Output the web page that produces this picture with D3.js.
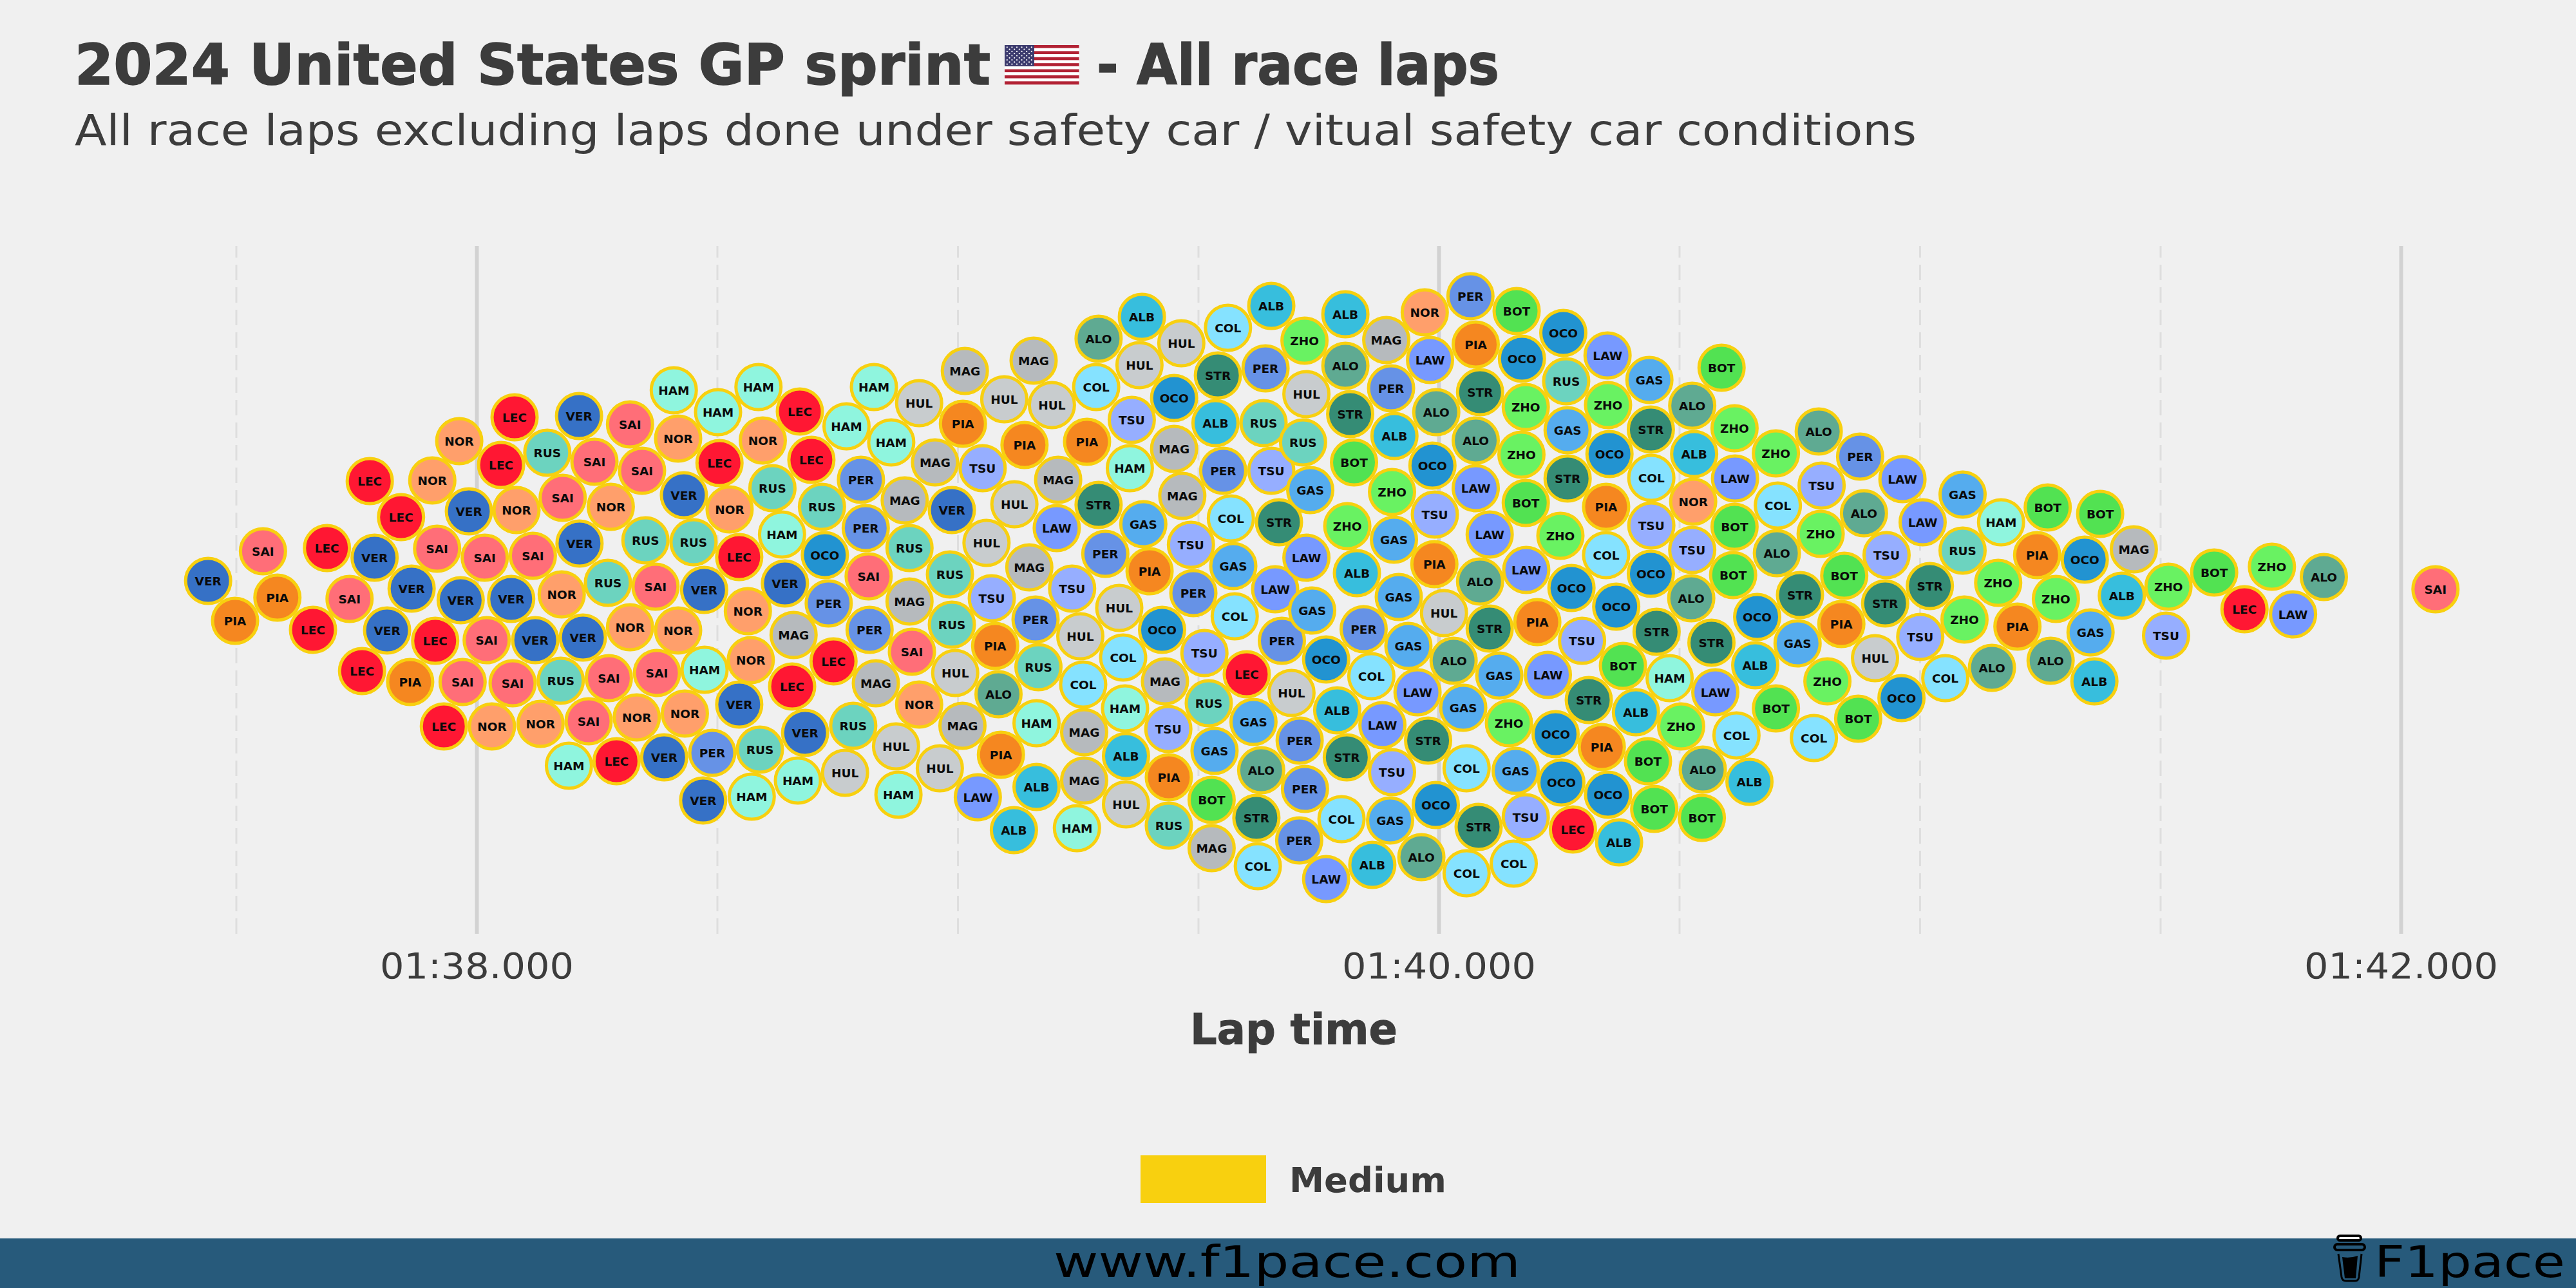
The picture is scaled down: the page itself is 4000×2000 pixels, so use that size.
<!DOCTYPE html>
<html><head><meta charset="utf-8">
<script src="https://cdn.jsdelivr.net/npm/d3@7"></script>
<style>html,body{margin:0;padding:0;background:#f0f0f0}svg{display:block}text{font-family:"DejaVu Sans",sans-serif}</style>
</head><body><div id="chart"></div>
<script>
const driverCodes=["VER","PER","LEC","SAI","HAM","RUS","NOR","PIA","ALO","STR","GAS","OCO","ALB","COL","TSU","LAW","HUL","MAG","BOT","ZHO"];
const driverColors=["#3671C6","#6692E6","#FF1733","#FF6E78","#8FF5DE","#6CD3BF","#FF9F6B","#F58720","#5FAA92","#358C75","#55ACEE","#2293D1","#37BEDD","#85E2FF","#96AEFF","#7799FF","#C8CCCE","#B6BABD","#52E252","#69F262"];
const lapDrivers=["VER","PIA","SAI","PIA","LEC","LEC","SAI","VER","LEC","LEC","NOR","NOR","VER","SAI","VER","VER","LEC","PIA","LEC","VER","SAI","LEC","LEC","NOR","SAI","VER","SAI","SAI","LEC","NOR","SAI","VER","NOR","RUS","VER","NOR","VER","SAI","RUS","VER","SAI","NOR","RUS","NOR","SAI","SAI","HAM","LEC","NOR","SAI","NOR","SAI","RUS","SAI","SAI","HAM","NOR","VER","RUS","VER","HAM","NOR","VER","PER","VER","HAM","LEC",
"NOR","LEC","VER","NOR","NOR","HAM","RUS","HAM","NOR","RUS","HAM","VER","MAG","LEC","VER","HAM","HUL","LEC","LEC","RUS","OCO","PER","LEC","RUS","HAM","HAM","PER","PER","SAI","PER","MAG","HUL","HAM","HUL","HAM","MAG","RUS","MAG","SAI","NOR","HUL","LAW","MAG","VER","RUS","RUS","HUL","MAG","MAG","PIA","TSU","HUL","TSU","PIA","ALO","PIA","ALB","ALB","HUL","MAG","HUL","PIA","HUL","MAG","PER","RUS","HAM","MAG","LAW","TSU","HUL","COL","MAG","MAG","HAM","PIA","COL","ALO","ALB","HUL","HUL","TSU","HAM","STR","PER","HUL","COL","HAM","ALB","HUL","GAS","PIA","OCO","MAG","TSU","PIA","RUS","OCO","MAG","MAG","TSU","PER","TSU","RUS","GAS","BOT","MAG","STR","ALB","PER","COL","GAS","COL","LEC","GAS","ALO","STR","COL","COL","ALB","PER","RUS","TSU","STR","LAW","PER","HUL","PER","PER","PER","ZHO","HUL","RUS","GAS","LAW","GAS","OCO","LAW",
"ALB","ALO","STR","BOT","ZHO","ALB","STR","LAW","COL","PER","ALB","GAS","ZHO","ALB","PER","MAG","NOR","PER","BOT","LAW","ALO","OCO","TSU","PIA","GAS","HUL","GAS","ALO","LAW","GAS","STR","TSU","COL","GAS","ALB","ALO","OCO","COL","COL","STR","COL","TSU","GAS","ZHO","GAS","STR","ALO","LAW","LAW","ALO","STR","PIA","OCO","ZHO","ZHO","BOT","ZHO","LAW","PIA","LAW","OCO","OCO","LEC","ALB","OCO","PIA","STR","TSU","OCO","COL","PIA","STR","GAS","RUS","OCO","LAW","ZHO","OCO","GAS","STR","COL","TSU","OCO","OCO","STR","BOT","HAM","ALB","ZHO","BOT","BOT","ALO","BOT","ALB","COL","LAW","STR","ALO","TSU","NOR","ALB","ALO","BOT","ZHO","LAW","BOT","BOT","OCO","ALB","BOT","COL","BOT","ZHO","GAS","STR","ALO","COL","ZHO","ALO","TSU","ZHO","BOT","PIA","HUL","PER","ALO","TSU","STR",
"LAW","LAW","STR","TSU","OCO","GAS","HAM","RUS","BOT","BOT","PIA","OCO","MAG","ZHO","ZHO","ZHO","PIA","COL","ALO","ALO","GAS","ALB","ALB","ZHO","TSU","BOT","LEC","ZHO","LAW","ALO","SAI"];
const lapTimes=[97.442,97.498,97.556,97.586,97.689,97.660,97.736,97.788,97.778,97.843,97.908,97.964,97.984,97.918,97.865,97.814,97.762,97.862,97.914,97.967,98.017,98.051,98.079,98.083,98.117,98.072,98.021,97.971,97.932,98.032,98.075,98.122,98.133,98.175,98.221,98.177,98.214,98.179,98.147,98.213,98.245,98.279,98.273,98.319,98.275,98.233,98.192,98.291,98.333,98.375,98.419,98.372,98.351,98.344,98.319,98.410,98.419,98.431,98.451,98.473,98.474,98.433,98.390,98.490,98.471,98.502,98.505,
98.526,98.546,98.546,98.564,98.570,98.572,98.589,98.586,98.595,98.615,98.635,98.641,98.659,98.656,98.683,98.668,98.766,98.672,98.696,98.718,98.724,98.732,98.742,98.783,98.769,98.826,98.799,98.809,98.815,98.817,98.830,98.872,98.877,98.920,98.862,98.890,98.900,98.900,98.905,98.920,98.963,99.042,98.953,98.988,98.984,98.988,98.995,99.010,99.015,99.011,99.052,99.060,99.071,99.078,99.085,99.090,99.117,99.164,99.097,99.158,99.196,99.139,99.118,99.149,99.162,99.168,99.164,99.209,99.206,99.238,99.255,99.261,99.263,99.263,99.248,99.269,99.288,99.293,99.383,99.378,99.465,99.362,99.358,99.293,99.307,99.336,99.344,99.348,99.350,99.350,99.386,99.399,99.425,99.431,99.438,99.439,99.439,99.450,99.450,99.467,99.485,99.490,99.513,99.522,99.534,99.528,99.528,99.541,99.536,99.552,99.568,99.573,99.576,99.601,99.615,99.631,99.621,99.624,99.562,99.652,99.640,99.636,99.652,99.668,99.660,99.674,99.694,99.711,99.722,99.710,99.721,99.725,99.718,99.733,99.725,99.737,99.766,99.766,
99.806,99.806,99.816,99.824,99.810,99.789,99.809,99.883,99.860,99.844,99.830,99.907,99.903,99.908,99.901,99.891,99.971,100.066,100.162,99.982,99.995,99.987,99.992,99.991,99.917,100.011,99.937,100.031,99.956,100.051,99.978,99.903,99.798,99.899,99.862,99.964,99.994,100.058,100.058,100.083,100.156,100.181,100.160,100.146,100.126,100.106,100.086,100.106,100.077,100.077,100.086,100.077,100.173,100.181,100.172,100.181,100.253,100.182,100.205,100.227,100.243,100.255,100.279,100.375,100.352,100.339,100.312,100.298,100.276,100.348,100.348,100.268,100.268,100.265,100.259,100.351,100.352,100.355,100.438,100.441,100.442,100.442,100.441,100.369,100.453,100.383,100.480,100.410,100.504,100.435,100.448,100.549,100.547,100.646,100.619,100.575,100.567,100.525,100.527,100.529,100.531,100.527,100.588,100.615,100.616,100.615,100.612,100.662,100.658,100.701,100.780,100.872,100.808,100.746,100.751,100.703,100.705,100.701,100.790,100.796,100.794,100.843,100.837,100.907,100.876,100.884,100.931,100.928,
100.964,101.006,101.021,101.001,100.962,101.089,101.169,101.089,101.266,101.375,101.244,101.343,101.445,101.163,101.093,101.283,101.203,101.053,101.150,101.272,101.355,101.363,101.420,101.517,101.512,101.612,101.675,101.732,101.776,101.840,102.072];
const swarmOffsets=[.14,-.48,.60,-.12,.65,-.62,-.14,.50,1.69,1.13,1.70,2.31,1.22,.64,.02,-.63,-1.26,-1.43,-.79,-.16,.50,1.94,2.68,1.24,.53,-.14,-.78,-1.43,-2.12,-2.12,-1.45,-.78,-2.08,-1.41,-.74,-.07,.72,1.43,2.13,2.70,1.99,1.29,.11,-.58,-1.37,-2.04,-2.73,-2.66,-1.98,-1.29,-.63,.05,.77,1.85,2.57,3.10,2.35,1.47,.74,0,-1.24,-1.92,-2.60,-2.53,-3.27,2.76,1.97,
1.25,.51,-1.78,-.33,-1.09,-3.21,-2.48,3.15,2.32,1.58,.86,.10,-.70,-1.50,-2.22,-2.96,-2.84,2.77,2.02,1.29,.54,-.21,-1.11,-2.11,2.54,3.15,1.71,.96,.21,-.62,-1.45,-2.43,-3.18,2.90,2.29,1.39,.65,-.18,-.96,-1.78,-2.77,-3.22,1.98,1.24,.24,-.54,-1.29,-2.11,3.40,2.58,1.89,.73,-.13,-.87,-1.62,-2.56,-3.73,-3.06,2.96,3.56,2.87,2.25,1.33,.35,-.46,-1.20,-2.07,1.71,.96,.02,-.72,-1.47,-2.21,-2.96,-3.70,2.30,3.15,3.90,4.24,3.49,3.83,2.64,1.89,1.32,.56,-.28,-1.05,-1.84,-2.58,-3.33,1.02,.29,-.62,-1.42,-2.16,-2.91,-3.66,2.98,2.19,1.46,.70,-.05,-.98,-1.76,-2.50,-3.26,-4.01,3.33,2.59,1.85,1.11,.37,-.41,-1.31,-2.05,-2.80,-3.54,-4.29,4.07,4.41,3.44,2.59,1.85,1.05,.01,-.79,-1.60,-2.34,-3.09,-3.89,3.87,3.04,2.29,1.55,.50,-.32,-1.08,-4.49,
4.28,3.48,2.73,1.98,.99,-1.87,-2.60,-2.10,-1.34,-.61,.26,.78,1.52,2.39,3.13,3.88,4.31,4.56,4.33,3.57,2.76,1.93,1.17,.40,-.11,-.36,-.87,-1.10,-1.59,-1.83,-2.34,-2.83,-3.56,-3.58,-4.27,-4.15,-3.34,-2.77,-4.40,-3.68,-4.25,-3.53,-2.81,-2.07,-1.33,-.60,.13,.86,1.58,2.32,3.07,3.81,3.59,2.84,2.10,1.35,.84,.31,-.50,-1.32,-2.24,-2.99,-3.72,-3.92,-3.18,-2.44,-1.71,-.79,.03,.54,1.29,1.73,2.48,3.24,3.99,3.64,2.87,2.11,3.26,2.49,1.74,1.00,.25,-.26,-.65,-1.18,-1.37,-1.90,-2.12,-2.66,-3.40,-2.79,-3.54,-2.98,-2.26,-1.59,-.82,-.13,.62,1.37,2.11,2.86,3.45,2.51,1.73,.98,.23,-.42,-1.17,-1.84,-2.30,-2.00,-1.42,-.83,-.08,.57,1.31,2.12,2.46,1.62,.87,.22,-.53,-1.06,2.07,1.19,.54,-.21,
1.72,1.05,.06,-.73,-1.68,1.48,1.05,.61,1.28,1.18,.54,.47,.63,.11,-.46,-.14,-.57,-1.37,-1.21,-1.10,-.66,-1.42,-.09,.05,-.71,.27,-.30,.36,-.38,.20,.01];
const gridTicks=[97.5,98,98.5,99,99.5,100,100.5,101,101.5,102];
const majorTicks=[98,100,102];
const tickLabels={98:"01:38.000",100:"01:40.000",102:"01:42.000"};
const titleStart="2024 United States GP sprint",titleEnd="- All race laps";
const subtitle="All race laps excluding laps done under safety car / vitual safety car conditions";
const axisTitle="Lap time",legendLabel="Medium",footerUrl="www.f1pace.com",footerBrand="F1pace";

const INK="#3c3c3c",TYRE="#F8D00F",BAND="#275A7B";
const svg=d3.select("#chart").append("svg").attr("width",4000).attr("height",2000).attr("viewBox","0 0 4000 2000");
svg.append("rect").attr("width",4000).attr("height",2000).attr("fill","#f0f0f0");
const x=d3.scaleLinear().domain([98,102]).range([740,3728]);
const y=d3.scaleLinear().domain([-5.34,5.34]).range([1450,382]);
const color=d3.scaleOrdinal(driverCodes,driverColors);

function label(t,xp,yp,size,weight,len,fill,anchor){
  const e=svg.append("text").attr("x",xp).attr("y",yp).attr("font-size",size).attr("font-weight",weight).attr("fill",fill||INK).attr("text-anchor",anchor||"start").text(t);
  if(len)e.attr("textLength",len).attr("lengthAdjust","spacingAndGlyphs");
  return e;
}
label(titleStart,116,131,88,700,1422).attr("stroke",INK).attr("stroke-width",1.5);
label(titleEnd,1703,131,88,700,625).attr("stroke",INK).attr("stroke-width",1.5);
label(subtitle,116,225,66,400,2860);

// flag
const flag=svg.append("g").attr("transform","translate(1560,70)");
const sH=61/13;
flag.selectAll(".s").data(d3.range(13)).join("rect").attr("x",0).attr("y",i=>i*sH).attr("width",115.5).attr("height",sH+.3).attr("fill",i=>i%2?"#fff":"#B22234");
flag.append("rect").attr("width",46).attr("height",sH*7).attr("fill","#3C3B6E");
const stars=d3.cross(d3.range(9),d3.range(6)).filter(d=>d[0]%2===0||d[1]<5);
flag.selectAll(".d").data(stars).join("circle").attr("cx",d=>(d[0]%2?7.6:3.8)+d[1]*7.6).attr("cy",d=>3.3+d[0]*3.3).attr("r",1.1).attr("fill","#fff");

// axis with grid
const axis=d3.axisBottom(x).tickValues(gridTicks).tickSize(-(y(-5.34)-y(5.34))).tickSizeOuter(0).tickFormat(d=>tickLabels[d]||"").tickPadding(68);
const ax=svg.append("g").attr("transform",`translate(0,${y(-5.34)})`).call(axis);
ax.select(".domain").remove();
ax.selectAll(".tick line").attr("stroke",d=>majorTicks.includes(d)?"#d2d2d2":"#dedede").attr("stroke-width",d=>majorTicks.includes(d)?6:3).attr("stroke-dasharray",d=>majorTicks.includes(d)?null:"24 11");
ax.selectAll(".tick text").attr("font-size",56).attr("font-family","DejaVu Sans").attr("fill",INK).attr("y",69).attr("dy",0).attr("textLength",d=>tickLabels[d]?301:null).attr("lengthAdjust","spacingAndGlyphs");

label(axisTitle,1848,1621,66,700,322).attr("stroke",INK).attr("stroke-width",1);

// points
const laps=lapDrivers.map((d,i)=>({driver:d,time:lapTimes[i],off:swarmOffsets[i]}));
const pts=svg.append("g").selectAll("g").data(laps).join("g").attr("transform",d=>`translate(${x(d.time)},${y(d.off)})`);
pts.append("circle").attr("r",35).attr("fill",d=>color(d.driver)).attr("stroke",TYRE).attr("stroke-width",5);
pts.append("text").attr("text-anchor","middle").attr("dy","0.36em").attr("font-size",18.5).attr("font-weight",700).attr("fill","#0a0a0a").text(d=>d.driver);

// legend
svg.append("rect").attr("x",1771).attr("y",1794).attr("width",195).attr("height",74).attr("fill",TYRE);
label(legendLabel,2002,1851,54,700,244);

// footer
svg.append("rect").attr("x",0).attr("y",1923).attr("width",4000).attr("height",77).attr("fill",BAND);
label(footerUrl,1636,1983,68,400,725,"#000");
label(footerBrand,3687,1983,68,400,296,"#000");
const cup=svg.append("g");
cup.append("rect").attr("x",3630).attr("y",1919).attr("width",36).attr("height",7).attr("rx",3.5).attr("fill","#fff").attr("stroke","#000").attr("stroke-width",4);
cup.append("rect").attr("x",3625).attr("y",1932).attr("width",47).attr("height",9).attr("rx",4.5).attr("fill",BAND).attr("stroke","#000").attr("stroke-width",4);
cup.append("path").attr("d","M3631,1947L3636,1983Q3637,1989 3643,1989H3657Q3662,1989 3663,1983L3667,1947").attr("fill","none").attr("stroke","#000").attr("stroke-width",3);
cup.append("path").attr("d","M3637,1952Q3650,1954 3661,1950L3658,1985H3641Z").attr("fill","#000");
</script></body></html>
